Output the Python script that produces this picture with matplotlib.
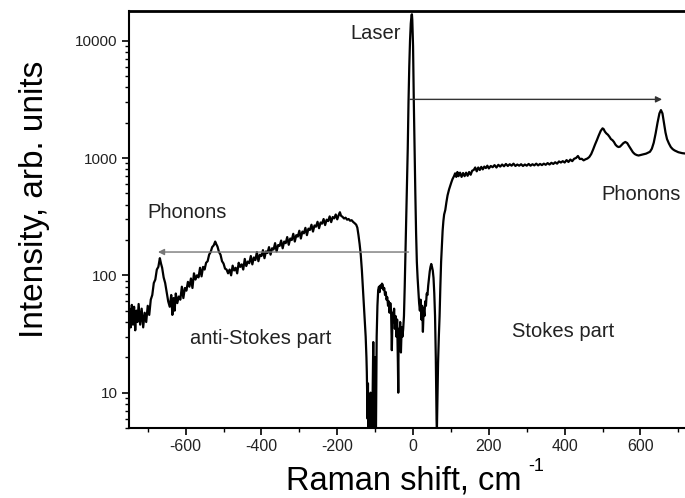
import numpy as np
import matplotlib
matplotlib.use("Agg")
import matplotlib.pyplot as plt
from matplotlib import ticker

plt.rcParams['font.family'] = ['Liberation Sans', 'DejaVu Sans']
plt.rcParams['axes.unicode_minus'] = False

# anti-Stokes side, Raman shift (cm-1) and intensity
shift_as = [-750, -748, -745, -742, -739, -736, -733, -730, -727, -724, -720, -716, -712, -708,
            -704, -700, -696, -692, -688, -684, -680, -676, -672, -668, -665, -662, -658, -654,
            -650, -646, -642, -638, -635, -632, -629, -626, -622, -618, -614, -610, -606, -602,
            -598, -594, -590, -586, -582, -578, -574, -570, -566, -562, -558, -554, -550, -546,
            -542, -538, -534, -530, -526, -522, -519, -516, -512, -508, -504, -500, -496, -492,
            -488, -484, -480, -476, -472, -468, -464, -460, -456, -452, -448, -444, -440, -436,
            -432, -428, -424, -420, -416, -412, -408, -404, -400, -396, -392, -388, -384, -380,
            -376, -372, -368, -364, -360, -356, -352, -348, -344, -340, -336, -332, -328, -324,
            -320, -316, -312, -308, -304, -300, -296, -292, -288, -284, -280, -276, -272, -268,
            -264, -260, -256, -252, -248, -244, -240, -236, -232, -228, -224, -220, -216, -212,
            -208, -204, -200, -196, -193, -190, -186, -182, -178, -174, -170, -166, -162, -158,
            -154, -150, -147, -144, -141, -138, -135, -132, -129, -127, -125, -123, -122, -121,
            -120, -119, -118, -116, -114, -112, -110, -108, -106, -105, -104, -102, -100, -98,
            -96, -94, -92, -90, -88, -86, -84, -82, -80, -78, -76, -74, -72, -70, -68, -66, -64,
            -62, -60, -58, -56, -54, -52, -50, -48, -46, -44, -42, -40, -39, -38, -36, -34, -32,
            -30, -28, -26, -24, -22, -20, -18, -16, -14, -12, -10, -8, -6, -4, -3, -2]
int_as = [30, 52, 36, 56, 38, 54, 34, 50, 40, 57, 38, 52, 36, 48,
          40, 55, 46, 62, 68, 86, 92, 112, 118, 140, 126, 116, 96, 86,
          72, 60, 54, 68, 46, 64, 50, 70, 58, 66, 62, 80, 64, 78,
          74, 88, 80, 94, 78, 104, 92, 100, 96, 116, 98, 118, 112, 128,
          132, 150, 158, 174, 180, 194, 184, 176, 158, 150, 132, 126, 114, 112,
          104, 112, 100, 121, 110, 116, 104, 128, 118, 124, 112, 138, 120, 131,
          127, 146, 124, 142, 135, 158, 132, 150, 146, 164, 140, 160, 155, 174,
          150, 170, 166, 188, 160, 181, 178, 198, 170, 194, 188, 212, 182, 206,
          200, 226, 194, 220, 214, 240, 206, 236, 228, 254, 220, 250, 244, 270,
          236, 266, 260, 286, 252, 282, 276, 302, 268, 298, 290, 318, 284, 314,
          306, 330, 300, 328, 345, 322, 315, 305, 310, 298, 302, 292, 295, 285,
          278, 270, 255, 220, 185, 150, 110, 75, 50, 40, 30, 20, 15, 9,
          6, 12, 5, 8, 5, 10, 6, 4, 15, 27, 12, 5, 20, 4,
          30, 55, 75, 80, 72, 82, 78, 85, 83, 75, 78, 68, 72, 62, 65, 55, 60,
          48, 58, 50, 23, 48, 40, 52, 35, 45, 30, 42, 18, 10, 35, 28, 40, 22,
          36, 30, 35, 45, 80, 160, 300, 600, 1200, 3000, 6000, 10000, 14000, 16500, 16800, 15000]

# Stokes side
shift_s = [0, 2, 4, 6, 8, 10, 12, 14, 16, 18, 20, 22, 24, 26, 28, 30, 32, 34, 36, 38, 40, 42,
           44, 46, 48, 50, 52, 54, 56, 58, 60, 62, 63, 64, 66, 68, 70, 72, 74, 76, 78, 80, 82,
           85, 88, 91, 95, 98, 101, 104, 108, 111, 114, 117, 120, 124, 128, 132, 136, 140, 144,
           148, 152, 156, 160, 164, 168, 172, 176, 180, 184, 188, 192, 196, 200, 205, 210, 215,
           220, 225, 230, 235, 240, 245, 250, 255, 260, 265, 270, 275, 280, 285, 290, 295, 300,
           305, 310, 315, 320, 325, 330, 335, 340, 345, 350, 355, 360, 365, 370, 375, 380, 385,
           390, 395, 400, 405, 410, 415, 420, 425, 430, 435, 440, 445, 450, 455, 460, 465, 470,
           475, 480, 485, 490, 495, 500, 503, 506, 510, 514, 518, 522, 526, 530, 534, 538, 542,
           546, 550, 555, 560, 565, 570, 575, 580, 585, 590, 595, 600, 605, 610, 615, 620, 625,
           630, 635, 640, 645, 650, 654, 658, 662, 666, 670, 675, 680, 685, 690, 695, 700, 705,
           710, 720]
int_s = [9000, 3000, 1200, 500, 230, 130, 95, 75, 58, 50, 62, 42, 55, 33, 52, 45, 60, 55, 70,
         68, 82, 95, 108, 118, 125, 118, 110, 95, 70, 45, 20, 6, 5, 8, 18, 30, 45, 80, 130, 180,
         240, 290, 330, 360, 420, 480, 540, 580, 620, 660, 700, 740, 690, 760, 700, 750, 690,
         745, 700, 750, 705, 760, 720, 780, 790, 830, 770, 830, 790, 840, 800, 845, 820, 860,
         815, 855, 835, 870, 830, 875, 845, 880, 850, 890, 855, 885, 860, 895, 855, 880, 860,
         885, 855, 880, 860, 890, 860, 885, 865, 895, 865, 890, 870, 895, 875, 905, 880, 910,
         890, 920, 895, 935, 915, 940, 915, 960, 925, 970, 940, 985, 1000, 1040, 980, 985, 955,
         975, 990, 1020, 1080, 1180, 1300, 1420, 1560, 1700, 1790, 1760, 1680, 1620, 1580,
         1520, 1450, 1420, 1370, 1300, 1260, 1240, 1250, 1290, 1340, 1370, 1340, 1260, 1190,
         1120, 1080, 1060, 1050, 1060, 1070, 1080, 1090, 1110, 1130, 1200, 1350, 1620, 2000,
         2400, 2560, 2400, 2000, 1650, 1450, 1330, 1240, 1190, 1160, 1140, 1120, 1110, 1100,
         1090]

shift = np.array(shift_as + shift_s)
intensity = np.array(int_as + int_s)

fig = plt.figure(figsize=(6.85, 4.98), dpi=100)
ax = fig.add_axes([0.188, 0.1406, 0.83, 0.8373])

ax.plot(shift, intensity, color='black', lw=1.6)

ax.set_yscale('log')
ax.set_xlim(-750, 750)
ax.set_ylim(5, 17900)

# arrows
ax.annotate('', xy=(657, 3160), xytext=(-8, 3160),
            arrowprops=dict(arrowstyle='-|>', color='#333333', lw=1.0,
                            mutation_scale=9, shrinkA=0, shrinkB=0))
ax.annotate('', xy=(-673, 158), xytext=(-12, 158),
            arrowprops=dict(arrowstyle='-|>', color='#777777', lw=1.0,
                            mutation_scale=9, shrinkA=0, shrinkB=0))

tcol = '#222222'
ax.text(-100, 11500, 'Laser', fontsize=14.5, ha='center', va='center', color=tcol)
ax.text(-597, 344, 'Phonons', fontsize=14.5, ha='center', va='center', color=tcol)
ax.text(602, 485, 'Phonons', fontsize=14.5, ha='center', va='center', color=tcol)
ax.text(-402, 29, 'anti-Stokes part', fontsize=14.5, ha='center', va='center', color=tcol)
ax.text(395, 33, 'Stokes part', fontsize=14.5, ha='center', va='center', color=tcol)

ax.set_xticks([-600, -400, -200, 0, 200, 400, 600])
ax.xaxis.set_minor_locator(ticker.MultipleLocator(100))
ax.yaxis.set_major_formatter(ticker.FormatStrFormatter('%d'))
ax.yaxis.set_minor_formatter(ticker.NullFormatter())

ax.tick_params(which='major', direction='out', length=5, width=1.2, labelsize=11.5, pad=3,
               labelcolor='#222222')
ax.tick_params(which='minor', direction='out', length=3, width=1.0)
ax.tick_params(axis='y', which='major', labelsize=11)

ax.spines['top'].set_linewidth(2.0)
ax.spines['left'].set_linewidth(1.5)
ax.spines['bottom'].set_linewidth(1.5)
ax.spines['right'].set_visible(False)

# x label with a plain hyphen superscript, like the original
ax.set_xlabel('Raman shift, cm', fontsize=23.5, ha='left', va='baseline')
ax.xaxis.set_label_coords(0.276, -0.147)
ax.text(0.702, -0.104, '-1', transform=ax.transAxes, fontsize=13, va='baseline')

ax.set_ylabel('Intensity, arb. units', fontsize=24)
ax.yaxis.set_label_coords(-0.139, 0.549)

fig.savefig('out.png', dpi=100)
